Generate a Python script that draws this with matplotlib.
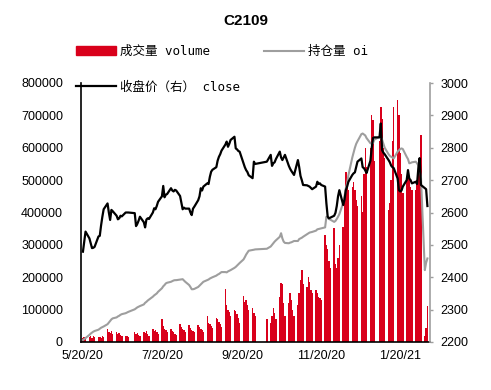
import numpy as np
import pandas as pd
import matplotlib
matplotlib.use("Agg")
import matplotlib.pyplot as plt
import matplotlib.dates as mdates
from matplotlib.lines import Line2D
from matplotlib.patches import Patch
from matplotlib.font_manager import FontProperties

plt.rcParams['font.family'] = ['Liberation Sans', 'Noto Sans CJK SC']

# trading days of C2109 shown in the chart (exchange holidays removed)
holidays = ["2020-06-25", "2020-06-26", "2020-10-01", "2020-10-02", "2020-10-05",
            "2020-10-06", "2020-10-07", "2020-10-08", "2021-01-01"]
dates = pd.bdate_range("2020-05-20", "2021-02-10")
dates = dates[~dates.isin(pd.to_datetime(holidays))]

# daily volume, thousand lots (one row per week)
volume_k = [
    12, 15, 10,
    15, 18, 12, 20, 14,
    14, 16, 12, 18, 15,
    39, 30, 27, 33, 25,
    31, 26, 29, 22, 18,
    20, 17, 14,
    31, 25, 28, 22, 18,
    31, 27, 33, 24, 20,
    41, 35, 38, 30, 25,
    72, 50, 40, 38, 30,
    39, 33, 30, 26, 22,
    56, 45, 40, 36, 30,
    53, 43, 38, 35, 30,
    51, 45, 40, 38, 32,
    80, 60, 55, 50, 42,
    75, 70, 62, 55, 45,
    163, 115, 100, 92, 80,
    99, 95, 88, 75, 60,
    142, 125, 130, 115, 100,
    104, 90, 80,
    70,
    60, 80, 104, 90, 70,
    140, 181, 178, 120, 80,
    120, 150, 130, 100, 80,
    115, 150, 190, 222, 180,
    170, 201, 185, 160, 150,
    161, 150, 140, 135, 130,
    330, 300, 288, 250, 230,
    351, 240, 230, 260, 300,
    356, 430, 525, 505, 470,
    480, 494, 470, 440, 420,
    450, 400, 520, 598, 540,
    600, 701, 685, 560,
    620, 725, 690, 600, 567,
    408, 430, 500, 620, 727,
    748, 700, 583, 520, 460,
    500, 530, 510, 480, 470,
    470, 500, 531, 560, 639,
    18, 42, 112,
]

# open interest, thousand lots
oi_k = [
    6, 9, 12,
    22, 26, 29, 32, 34,
    38, 41, 44, 46, 48,
    55, 60, 65, 70, 73,
    76, 79, 81, 84, 86,
    89, 91, 93,
    101, 104, 107, 109, 111,
    116, 121, 124, 128, 131,
    140, 144, 147, 150, 155,
    166, 172, 176, 181, 183,
    186, 188, 190, 191, 191,
    193, 194, 194, 190, 186,
    176, 170, 163, 163, 164,
    170, 174, 178, 182, 186,
    191, 193, 196, 198, 200,
    205, 208, 210, 213, 216,
    216, 215, 218, 220, 222,
    229, 232, 236, 240, 244,
    255, 262, 270, 276, 282,
    284, 285, 286,
    288,
    295, 300, 305, 310, 314,
    325, 336, 320, 310, 306,
    305, 307, 308, 310, 312,
    312, 318, 320, 322, 325,
    333, 336, 338, 339, 340,
    344, 348, 349, 350, 351,
    354, 387, 383, 380, 378,
    371, 374, 380, 387, 395,
    430, 450, 475, 490, 515,
    570, 585, 600, 612, 620,
    642, 644, 641, 638, 630,
    614, 612, 615, 625,
    634, 633, 625, 612, 600,
    580, 575, 572, 570, 567,
    588, 592, 596, 598, 596,
    572, 565, 552, 553, 555,
    557, 552, 545, 530, 510,
    222, 245, 258,
]

# closing price (right axis)
close = [
    2479, 2510, 2541,
    2520, 2505, 2490, 2491, 2494,
    2526, 2528, 2560, 2587, 2610,
    2628, 2600, 2577, 2608, 2604,
    2590, 2579, 2582, 2590, 2588,
    2600, 2600, 2600,
    2598, 2558, 2565, 2575, 2587,
    2570, 2554, 2578, 2582, 2580,
    2600, 2613, 2610, 2620, 2633,
    2650, 2682, 2647, 2655, 2657,
    2675, 2668, 2665, 2670, 2668,
    2651, 2630, 2610, 2615, 2612,
    2612, 2600, 2592, 2612, 2618,
    2638, 2650, 2675, 2668, 2680,
    2690, 2688, 2710, 2726, 2732,
    2740, 2760, 2772, 2780, 2791,
    2810, 2819, 2803, 2812, 2824,
    2834, 2798, 2795, 2790, 2788,
    2752, 2740, 2731, 2725, 2715,
    2706, 2757, 2750,
    2757,
    2778, 2744, 2752, 2755, 2765,
    2788, 2770, 2762, 2770, 2778,
    2744, 2735, 2728, 2722, 2716,
    2762, 2740, 2713, 2700, 2685,
    2684, 2682, 2680, 2676, 2672,
    2680, 2695, 2688, 2690, 2685,
    2680, 2628, 2587, 2582, 2584,
    2590, 2599, 2620, 2650, 2669,
    2623, 2640, 2669, 2680, 2695,
    2716, 2721, 2724, 2740, 2757,
    2767, 2740, 2737, 2730, 2722,
    2760, 2800, 2830, 2832,
    2832, 2875, 2793, 2785, 2780,
    2762, 2755, 2745, 2740, 2737,
    2705, 2669, 2665, 2668, 2680,
    2700, 2731, 2705, 2700, 2690,
    2695, 2688, 2737, 2768, 2685,
    2675, 2672, 2620,
]

tick_dates = ["2020-05-20", "2020-07-20", "2020-09-20", "2020-11-20", "2021-01-20"]
tick_labels = ["5/20/20", "7/20/20", "9/20/20", "11/20/20", "1/20/21"]
legend_labels = ["成交量 volume", "收盘价（右） close", "持仓量 oi"]

red = "#D9001B"
gray = "#9E9E9E"

x = mdates.date2num(dates)
volume = np.array(volume_k) * 1000
oi = np.array(oi_k) * 1000

fig = plt.figure(figsize=(4.91, 3.90), dpi=100)
ax = fig.add_axes([81 / 491, 1 - 342 / 390, 349 / 491, 259 / 390])

ax.bar(x, volume, width=1.15, color=red, linewidth=0)
ax.plot(x, oi, color=gray, lw=1.5)

ax2 = ax.twinx()
ax2.plot(x, close, color="black", lw=1.6)

ax.set_ylim(0, 800000)
ax.set_yticks(np.arange(0, 800001, 100000))
ax2.set_ylim(2200, 3000)
ax2.set_yticks(np.arange(2200, 3001, 100))
ax.set_xlim(x[0] - 1.5, x[0] + 268)
ax.set_xticks(mdates.date2num(pd.to_datetime(tick_dates)))
ax.set_xticklabels(tick_labels)

for s in ["top", "right"]:
    ax.spines[s].set_visible(False)
for s in ["top", "left", "bottom"]:
    ax2.spines[s].set_visible(False)
ax.spines["left"].set_linewidth(1.2)
ax.spines["bottom"].set_linewidth(1.2)
ax2.spines["right"].set_color(gray)
ax2.spines["right"].set_linewidth(1.2)

ax.tick_params(axis="y", length=0, pad=13, labelsize=9)
ax.tick_params(axis="x", length=0, pad=6, labelsize=9)
ax2.tick_params(axis="y", length=2.5, color=gray, width=1, pad=5, labelsize=9)

fig.text(0.5, 1 - 21 / 390, "C2109", ha="center", va="center",
         fontsize=11, fontweight="bold")

handles = [Patch(color=red), Line2D([], [], color="black", lw=1.6),
           Line2D([], [], color=gray, lw=1.5)]
fig.legend(handles, legend_labels, ncol=2, loc="upper left",
           bbox_to_anchor=(76 / 491, 1 - 45 / 390), frameon=False,
           prop=FontProperties(family=["DejaVu Sans Mono", "Noto Sans CJK SC"], size=9),
           handlelength=3.2, handletextpad=0.3, columnspacing=1.95,
           labelspacing=1.8, borderpad=0, borderaxespad=0)

fig.savefig("out.png", dpi=100)
